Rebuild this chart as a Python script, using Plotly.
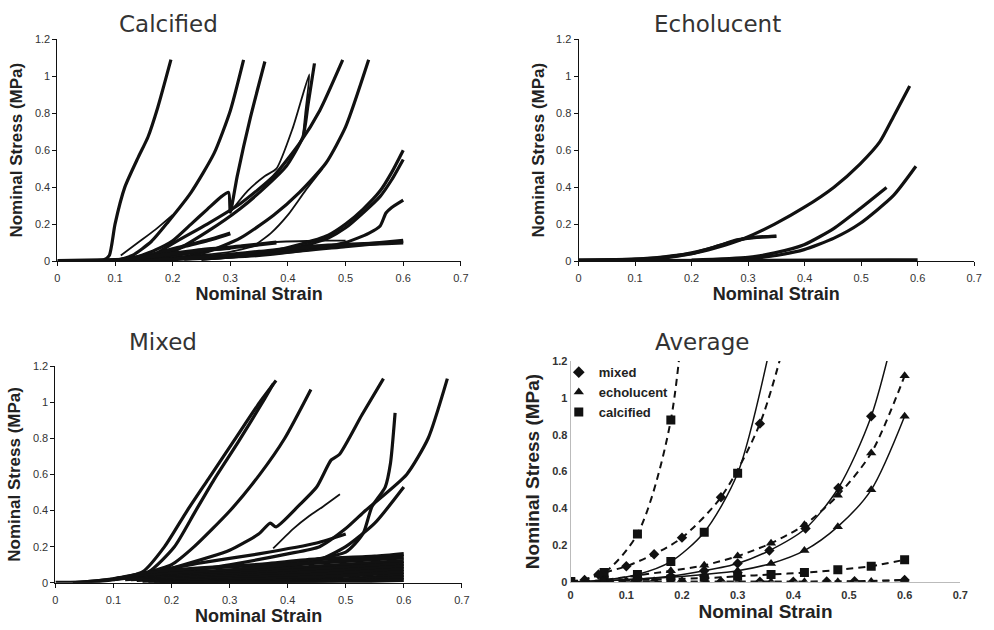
import plotly.graph_objects as go

# ---------------- data ----------------
X_TICKS = [0, 0.1, 0.2, 0.3, 0.4, 0.5, 0.6, 0.7]
Y_TICKS = [0, 0.2, 0.4, 0.6, 0.8, 1.0, 1.2]

# Calcified specimens (strain, stress)
CALC_A = [(0.0, 0.0), (0.05, 0.002), (0.08, 0.005), (0.09, 0.03), (0.1, 0.2), (0.117, 0.4), (0.14, 0.56), (0.157, 0.67), (0.174, 0.83), (0.197, 1.09)]
CALC_B = [(0.1, 0.0), (0.13, 0.03), (0.163, 0.106), (0.192, 0.212), (0.232, 0.372), (0.272, 0.584), (0.3, 0.814), (0.323, 1.089)]
CALC_C = [(0.11, 0.03), (0.14, 0.1), (0.17, 0.17), (0.2, 0.25)]
CALC_D = [(0.12, 0.0), (0.17, 0.06), (0.2, 0.11), (0.232, 0.2), (0.26, 0.28), (0.285, 0.35), (0.297, 0.372), (0.3, 0.265), (0.312, 0.46), (0.335, 0.779), (0.36, 1.08)]
CALC_E = [(0.15, 0.01), (0.2, 0.05), (0.26, 0.159), (0.317, 0.283), (0.363, 0.407), (0.397, 0.513), (0.426, 0.673), (0.435, 0.85), (0.446, 1.07)]
CALC_F = [(0.3, 0.265), (0.33, 0.38), (0.36, 0.46), (0.38, 0.5), (0.409, 0.726), (0.437, 1.01), (0.43, 0.8), (0.426, 0.673)]
CALC_G = [(0.15, 0.0), (0.203, 0.1), (0.26, 0.2), (0.317, 0.31), (0.375, 0.46), (0.42, 0.637), (0.455, 0.814), (0.495, 1.089)]
CALC_H = [(0.2, 0.01), (0.26, 0.05), (0.317, 0.124), (0.375, 0.248), (0.42, 0.372), (0.466, 0.531), (0.5, 0.726), (0.54, 1.089)]
CALC_I = [(0.25, 0.01), (0.35, 0.04), (0.42, 0.09), (0.47, 0.14), (0.5, 0.2), (0.53, 0.28), (0.56, 0.38), (0.58, 0.48), (0.6, 0.6)]
CALC_J = [(0.25, 0.01), (0.35, 0.035), (0.42, 0.075), (0.47, 0.125), (0.5, 0.18), (0.53, 0.26), (0.56, 0.35), (0.58, 0.44), (0.6, 0.55)]
CALC_K = [(0.22, 0.01), (0.35, 0.03), (0.45, 0.07), (0.5, 0.1), (0.54, 0.15), (0.56, 0.19), (0.57, 0.26), (0.58, 0.29), (0.6, 0.33)]
CALC_L = [(0.1, 0.0), (0.2, 0.02), (0.3, 0.05), (0.37, 0.1), (0.45, 0.11), (0.5, 0.11)]
CALC_M = [(0.0, 0.0), (0.1, 0.005), (0.2, 0.015), (0.3, 0.03), (0.4, 0.05), (0.5, 0.08), (0.6, 0.11)]
CALC_N = [(0.1, 0.0), (0.17, 0.04), (0.22, 0.08), (0.27, 0.12), (0.3, 0.15)]
CALC_O = [(0.12, 0.0), (0.2, 0.03), (0.26, 0.06), (0.32, 0.08), (0.38, 0.1)]
CALC_P = [(0.15, 0.0), (0.25, 0.02), (0.35, 0.05), (0.45, 0.08), (0.6, 0.1)]
CALC_Q = [(0.34, 0.08), (0.37, 0.15), (0.4, 0.25), (0.43, 0.38), (0.46, 0.5)]
CALC_R = [(0.09, 0.0), (0.15, 0.02), (0.2, 0.04), (0.25, 0.06), (0.3, 0.07)]

# Echolucent specimens
ECHO_A = [(0.0, 0.005), (0.1, 0.01), (0.2, 0.04), (0.242, 0.071), (0.294, 0.124), (0.347, 0.2), (0.399, 0.29), (0.452, 0.4), (0.498, 0.525), (0.533, 0.645), (0.557, 0.78), (0.586, 0.947)]
ECHO_B = [(0.0, 0.005), (0.1, 0.01), (0.15, 0.02), (0.2, 0.045), (0.24, 0.075), (0.264, 0.097), (0.3, 0.125), (0.35, 0.133)]
ECHO_C = [(0.15, 0.015), (0.2, 0.04), (0.25, 0.085), (0.28, 0.115), (0.32, 0.13), (0.35, 0.135)]
ECHO_D = [(0.2, 0.005), (0.3, 0.02), (0.347, 0.044), (0.399, 0.088), (0.452, 0.177), (0.498, 0.283), (0.545, 0.398)]
ECHO_E = [(0.3, 0.01), (0.35, 0.03), (0.399, 0.062), (0.452, 0.124), (0.498, 0.203), (0.557, 0.354), (0.597, 0.513)]
ECHO_F = [(0.0, 0.002), (0.3, 0.004), (0.55, 0.006), (0.6, 0.006)]

# Mixed specimens
MIX_A = [(0.03, 0.0), (0.1, 0.02), (0.15, 0.06), (0.188, 0.2), (0.227, 0.4), (0.263, 0.573), (0.307, 0.784), (0.352, 1.0), (0.38, 1.12)]
MIX_B = [(0.1, 0.02), (0.16, 0.06), (0.205, 0.2), (0.24, 0.39), (0.273, 0.57), (0.315, 0.78), (0.355, 0.99), (0.375, 1.1)]
MIX_C = [(0.15, 0.05), (0.2, 0.1), (0.239, 0.2), (0.301, 0.4), (0.352, 0.6), (0.395, 0.8), (0.44, 1.07)]
MIX_D = [(0.2, 0.08), (0.3, 0.18), (0.35, 0.27), (0.37, 0.33), (0.38, 0.31), (0.42, 0.43), (0.45, 0.53), (0.475, 0.68), (0.489, 0.71), (0.528, 0.93), (0.565, 1.13)]
MIX_E = [(0.375, 0.19), (0.41, 0.3), (0.437, 0.37), (0.46, 0.42), (0.49, 0.49)]
MIX_F = [(0.15, 0.05), (0.25, 0.11), (0.35, 0.16), (0.45, 0.22), (0.5, 0.27)]
MIX_G = [(0.2, 0.05), (0.3, 0.1), (0.4, 0.16), (0.455, 0.2), (0.5, 0.3), (0.534, 0.4), (0.605, 0.6), (0.642, 0.8), (0.675, 1.13)]
MIX_H = [(0.45, 0.13), (0.5, 0.17), (0.517, 0.22), (0.531, 0.28), (0.545, 0.42), (0.568, 0.53), (0.577, 0.66), (0.585, 0.94)]
MIX_I = [(0.3, 0.05), (0.4, 0.09), (0.45, 0.12), (0.5, 0.2), (0.55, 0.33), (0.6, 0.53)]
MIX_J = [(0.0, 0.0), (0.05, 0.003), (0.1, 0.02), (0.15, 0.05), (0.25, 0.08), (0.35, 0.1), (0.45, 0.13), (0.55, 0.145), (0.6, 0.16)]
MIX_K = [(0.1, 0.02), (0.2, 0.05), (0.3, 0.07), (0.4, 0.1), (0.5, 0.12), (0.6, 0.14)]
MIX_L = [(0.12, 0.02), (0.3, 0.055), (0.45, 0.09), (0.6, 0.12)]
MIX_M = [(0.13, 0.02), (0.3, 0.045), (0.45, 0.075), (0.6, 0.105)]
MIX_N = [(0.14, 0.015), (0.3, 0.035), (0.45, 0.06), (0.6, 0.09)]
MIX_O = [(0.15, 0.01), (0.3, 0.025), (0.45, 0.045), (0.6, 0.075)]
MIX_P = [(0.16, 0.005), (0.3, 0.015), (0.45, 0.03), (0.6, 0.06)]
MIX_Q = [(0.17, 0.002), (0.35, 0.008), (0.5, 0.02), (0.6, 0.045)]
MIX_R = [(0.18, 0.0), (0.4, 0.005), (0.6, 0.03)]
MIX_S = [(0.2, 0.0), (0.45, 0.003), (0.6, 0.015)]

# Average curves: dashed upper/lower bands and solid mean
AVG_CALC_UP_X = [0, 0.06, 0.12, 0.18, 0.24]
AVG_CALC_UP_Y = [0, 0.05, 0.26, 0.88, 3.0]
AVG_CALC_MEAN_X = [0, 0.06, 0.12, 0.18, 0.24, 0.30, 0.36]
AVG_CALC_MEAN_Y = [0, 0.01, 0.04, 0.11, 0.27, 0.59, 1.30]
AVG_CALC_LOW_X = [0, 0.06, 0.12, 0.18, 0.24, 0.30, 0.36, 0.42, 0.48, 0.54, 0.60]
AVG_CALC_LOW_Y = [0, 0.005, 0.01, 0.015, 0.02, 0.03, 0.04, 0.05, 0.065, 0.085, 0.12]
AVG_MIX_UP_X = [0, 0.025, 0.05, 0.10, 0.15, 0.20, 0.27, 0.34, 0.41]
AVG_MIX_UP_Y = [0, 0.01, 0.04, 0.085, 0.15, 0.24, 0.46, 0.86, 1.60]
AVG_MIX_MEAN_X = [0, 0.06, 0.12, 0.18, 0.24, 0.30, 0.357, 0.422, 0.481, 0.54, 0.60]
AVG_MIX_MEAN_Y = [0, 0.005, 0.015, 0.03, 0.06, 0.10, 0.17, 0.29, 0.51, 0.90, 1.60]
AVG_MIX_LOW_X = [0, 0.10, 0.15, 0.20, 0.27, 0.34, 0.40, 0.46, 0.51, 0.60]
AVG_MIX_LOW_Y = [0, 0.0, 0.0, 0.0, 0.0, 0.0, 0.0, 0.002, 0.003, 0.01]
AVG_ECHO_UP_X = [0, 0.06, 0.12, 0.18, 0.24, 0.30, 0.36, 0.42, 0.48, 0.54, 0.60]
AVG_ECHO_UP_Y = [0, 0.01, 0.035, 0.06, 0.09, 0.14, 0.21, 0.31, 0.47, 0.70, 1.12]
AVG_ECHO_MEAN_X = [0, 0.06, 0.12, 0.18, 0.24, 0.30, 0.36, 0.42, 0.48, 0.54, 0.60]
AVG_ECHO_MEAN_Y = [0, 0.005, 0.015, 0.025, 0.04, 0.06, 0.10, 0.17, 0.30, 0.50, 0.90]
AVG_ECHO_LOW_X = [0, 0.06, 0.12, 0.18, 0.24, 0.30, 0.36, 0.42, 0.48, 0.54, 0.60]
AVG_ECHO_LOW_Y = [0, 0.0, 0.0, 0.0, 0.0, 0.0, 0.0, 0.0, 0.0, 0.002, 0.01]

PANEL_TITLES = ["Calcified", "Echolucent", "Mixed", "Average"]
X_TITLE = "Nominal Strain"
Y_TITLE = "Nominal Stress (MPa)"
LEGEND_NAMES = ["mixed", "echolucent", "calcified"]
LEGEND_SYMBOLS = ["diamond", "triangle-up", "square"]

# ---------------- figure ----------------
fig = go.Figure()

thin = {"CALC_C", "CALC_F", "CALC_L", "CALC_Q", "MIX_E"}
bundle = {"MIX_J", "MIX_K", "MIX_L", "MIX_M", "MIX_N", "MIX_O", "MIX_P", "MIX_Q", "MIX_R", "MIX_S",
          "CALC_M", "CALC_N", "CALC_O", "CALC_P", "CALC_R"}

panels = [
    ("x", "y", {"CALC_A": CALC_A, "CALC_B": CALC_B, "CALC_C": CALC_C, "CALC_D": CALC_D,
                "CALC_E": CALC_E, "CALC_F": CALC_F, "CALC_G": CALC_G, "CALC_H": CALC_H,
                "CALC_I": CALC_I, "CALC_J": CALC_J, "CALC_K": CALC_K, "CALC_L": CALC_L,
                "CALC_M": CALC_M, "CALC_N": CALC_N, "CALC_O": CALC_O, "CALC_P": CALC_P,
                "CALC_Q": CALC_Q, "CALC_R": CALC_R}),
    ("x2", "y2", {"ECHO_A": ECHO_A, "ECHO_B": ECHO_B, "ECHO_C": ECHO_C, "ECHO_D": ECHO_D,
                  "ECHO_E": ECHO_E, "ECHO_F": ECHO_F}),
    ("x3", "y3", {"MIX_A": MIX_A, "MIX_B": MIX_B, "MIX_C": MIX_C, "MIX_D": MIX_D,
                  "MIX_E": MIX_E, "MIX_F": MIX_F, "MIX_G": MIX_G, "MIX_H": MIX_H,
                  "MIX_I": MIX_I, "MIX_J": MIX_J, "MIX_K": MIX_K, "MIX_L": MIX_L,
                  "MIX_M": MIX_M, "MIX_N": MIX_N, "MIX_O": MIX_O, "MIX_P": MIX_P,
                  "MIX_Q": MIX_Q, "MIX_R": MIX_R, "MIX_S": MIX_S}),
]
for xa, ya, curves in panels:
    for name, pts in curves.items():
        w = 1.8 if name in thin else (4.0 if name in bundle else 3.2)
        fig.add_trace(go.Scatter(
            x=[p[0] for p in pts], y=[p[1] for p in pts], xaxis=xa, yaxis=ya,
            mode="lines", showlegend=False, hoverinfo="skip",
            line=dict(color="#111111", width=w, shape="spline", smoothing=0.6)))

avg = [
    (AVG_CALC_UP_X, AVG_CALC_UP_Y, "square", 9, "dash"),
    (AVG_CALC_MEAN_X, AVG_CALC_MEAN_Y, "square", 9, "solid"),
    (AVG_CALC_LOW_X, AVG_CALC_LOW_Y, "square", 9, "dash"),
    (AVG_MIX_UP_X, AVG_MIX_UP_Y, "diamond", 8, "dash"),
    (AVG_MIX_MEAN_X, AVG_MIX_MEAN_Y, "diamond", 8, "solid"),
    (AVG_MIX_LOW_X, AVG_MIX_LOW_Y, "diamond", 8, "dash"),
    (AVG_ECHO_UP_X, AVG_ECHO_UP_Y, "triangle-up", 9, "dash"),
    (AVG_ECHO_MEAN_X, AVG_ECHO_MEAN_Y, "triangle-up", 9, "solid"),
    (AVG_ECHO_LOW_X, AVG_ECHO_LOW_Y, "triangle-up", 9, "dash"),
]
for xs, ys, sym, size, dash in avg:
    fig.add_trace(go.Scatter(
        x=xs, y=ys, xaxis="x4", yaxis="y4", mode="lines+markers",
        showlegend=False, hoverinfo="skip",
        line=dict(color="#111111", width=2 if dash == "dash" else 1.5,
                  dash="7px,5px" if dash == "dash" else "solid",
                  shape="spline", smoothing=0.8),
        marker=dict(symbol=sym, size=size, color="#111111")))

# legend entries (markers only)
for nm, sym in zip(LEGEND_NAMES, LEGEND_SYMBOLS):
    fig.add_trace(go.Scatter(
        x=[None], y=[None], xaxis="x4", yaxis="y4", mode="markers", name=nm,
        marker=dict(symbol=sym, size=9, color="#111111"), showlegend=True))

W, H = 994, 630
def dx(a, b):
    return [a / W, b / W]
def dy(top, bottom):
    return [1 - bottom / H, 1 - top / H]

tickfont = dict(family="Liberation Sans, Arial", size=11, color="#333333")
titlefont = dict(family="Liberation Sans, Arial", size=17, color="#222222", weight="bold")

def xax(dom, anchor, color="#111111", bold=False, size=18):
    f = dict(tickfont)
    if bold:
        f["weight"] = "bold"
    return dict(domain=dom, anchor=anchor, range=[0, 0.7], tickvals=X_TICKS,
                showgrid=False, zeroline=False, showline=True, linecolor=color,
                linewidth=1, ticks="outside" if not bold else "", ticklen=4,
                tickcolor=color, tickfont=f, ticklabelstandoff=3,
                title=dict(text=X_TITLE, font=dict(titlefont, size=size), standoff=0))

def yax(dom, anchor, color="#111111", bold=False, size=17):
    f = dict(tickfont)
    if bold:
        f["weight"] = "bold"
    return dict(domain=dom, anchor=anchor, range=[0, 1.2], tickvals=Y_TICKS,
                showgrid=False, zeroline=False, showline=True, linecolor=color,
                linewidth=1, ticks="outside" if not bold else "", ticklen=4,
                tickcolor=color, tickfont=f,
                title=dict(text=Y_TITLE, font=dict(titlefont, size=size), standoff=7))

fig.update_layout(
    width=W, height=H, autosize=False,
    margin=dict(l=0, r=0, t=0, b=0),
    paper_bgcolor="white", plot_bgcolor="white",
    xaxis=xax(dx(55, 463), "y"),
    yaxis=yax(dy(34, 260), "x"),
    xaxis2=xax(dx(582, 982), "y2"),
    yaxis2=yax(dy(34, 260), "x2"),
    xaxis3=xax(dx(53, 464), "y3"),
    yaxis3=yax(dy(367, 588), "x3"),
    xaxis4=xax(dx(574, 968), "y4", color="#bbbbbb", bold=True, size=19),
    yaxis4=yax(dy(362, 587), "x4", color="#bbbbbb", bold=True, size=19),
    legend=dict(x=562 / W, y=1 - 358 / H, xanchor="left", yanchor="top",
                bgcolor="rgba(255,255,255,0)", borderwidth=0,
                font=dict(family="Liberation Sans, Arial", size=13, color="#222222",
                          weight="bold"),
                itemwidth=30, tracegroupgap=0),
    showlegend=True,
)

title_pos = [(167, 18), (722, 18), (162, 343), (707, 343)]
for t, (cx, cy) in zip(PANEL_TITLES, title_pos):
    fig.add_annotation(text=t, x=cx / W, y=1 - cy / H, xref="paper", yref="paper",
                       xanchor="center", yanchor="middle", showarrow=False,
                       font=dict(family="DejaVu Sans", size=23, color="#333333"))

fig.write_html("out.html", config={"displayModeBar": False},
               post_script="document.body.style.margin='0';")
